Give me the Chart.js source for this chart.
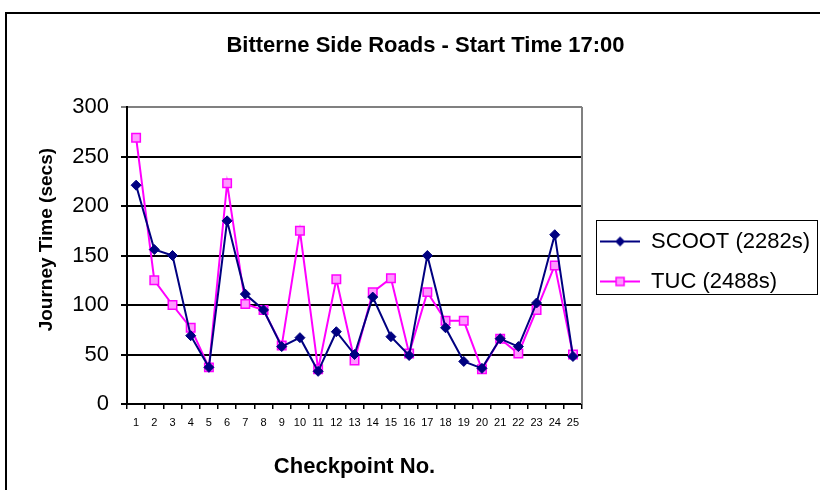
<!DOCTYPE html>
<html>
<head>
<meta charset="utf-8">
<script src="https://cdn.jsdelivr.net/npm/chart.js@4.4.0/dist/chart.umd.min.js"></script>
<style>
  html, body { margin: 0; padding: 0; background: #fff; overflow: hidden; }
  #marco {
    position: absolute; left: 5px; top: 12px; width: 900px; height: 600px;
    border-left: 2px solid #000; border-top: 2px solid #000;
  }
  #caja { position: absolute; left: 0; top: 0; width: 820px; height: 490px; }
</style>
</head>
<body>
<div id="marco"></div>
<div id="caja"><canvas id="grafico" width="820" height="490"></canvas></div>
<script>
// Datos
const checkpoints = ["1","2","3","4","5","6","7","8","9","10","11","12","13",
                     "14","15","16","17","18","19","20","21","22","23","24","25"];
const scoot = [221, 156, 150, 69, 37, 185, 111, 95, 58, 67, 33, 73, 50,
               108, 68, 49, 150, 77, 43, 36, 66, 58, 102, 171, 48];
const tuc = [269, 125, 100, 77, 37, 223, 101, 95, 59, 175, 35, 126, 44,
             113, 127, 51, 113, 84, 84, 35, 66, 51, 95, 140, 50];
const nombresSeries = ["SCOOT (2282s)", "TUC (2488s)"];
const yTicks = [0, 50, 100, 150, 200, 250, 300];

const AZUL = '#000080';
const ROSA = '#ff00ff';
const ROSA_CLARO = '#ff99ff';
const FUENTE = 'Arial, "Liberation Sans", sans-serif';

// Simbolo de leyenda: linea con marcador en medio
function simboloLeyenda(color, relleno, tipo) {
    const c = document.createElement('canvas');
    c.width = 40; c.height = 14;
    const g = c.getContext('2d');
    g.strokeStyle = color; g.lineWidth = 2;
    g.beginPath(); g.moveTo(0, 7); g.lineTo(40, 7); g.stroke();
    g.fillStyle = relleno;
    if (tipo === 'rombo') {
        g.beginPath();
        g.moveTo(20, 2); g.lineTo(25, 7); g.lineTo(20, 12); g.lineTo(15, 7);
        g.closePath(); g.fill();
    } else {
        g.fillRect(16, 3, 8, 8);
        g.lineWidth = 1.5;
        g.strokeRect(16, 3, 8, 8);
    }
    return c;
}

// Borde gris del area de trazado y recuadro de la leyenda
const bordes = {
    id: 'bordes',
    afterDatasetsDraw(chart) {
        const { ctx, chartArea } = chart;
        ctx.save();
        ctx.strokeStyle = '#808080';
        ctx.lineWidth = 2;
        ctx.beginPath();
        ctx.moveTo(Math.round(chartArea.right), chartArea.top);
        ctx.lineTo(Math.round(chartArea.right), chartArea.bottom);
        ctx.stroke();
        ctx.restore();
    },
    afterDraw(chart) {
        const lg = chart.legend;
        if (!lg || !lg.legendHitBoxes || !lg.legendHitBoxes.length) return;
        const hb = lg.legendHitBoxes;
        const primero = hb[0], ultimo = hb[hb.length - 1];
        const x0 = Math.round(primero.left - 4) + 0.5;
        const y0 = Math.round(primero.top - 11) + 0.5;
        const x1 = Math.round(lg.right - 3) + 0.5;
        const y1 = Math.round(ultimo.top + ultimo.height + 1) + 0.5;
        const ctx = chart.ctx;
        ctx.save();
        ctx.strokeStyle = '#000';
        ctx.lineWidth = 1;
        ctx.strokeRect(x0, y0, x1 - x0, y1 - y0);
        ctx.restore();
    }
};

const simbolos = [simboloLeyenda(AZUL, AZUL, 'rombo'), simboloLeyenda(ROSA, ROSA_CLARO, 'cuadro')];

new Chart(document.getElementById('grafico'), {
    type: 'line',
    data: {
        labels: checkpoints,
        datasets: [{
            label: nombresSeries[0],
            data: scoot,
            borderColor: AZUL,
            backgroundColor: AZUL,
            borderWidth: 2,
            pointStyle: 'rectRot',
            pointRadius: 5,
            pointBorderWidth: 1,
            pointBackgroundColor: AZUL,
            pointBorderColor: AZUL,
            tension: 0
        }, {
            label: nombresSeries[1],
            data: tuc,
            borderColor: ROSA,
            backgroundColor: ROSA_CLARO,
            borderWidth: 2,
            pointStyle: 'rect',
            pointRadius: 6,
            pointBorderWidth: 1.5,
            pointBackgroundColor: ROSA_CLARO,
            pointBorderColor: ROSA,
            tension: 0
        }]
    },
    options: {
        responsive: false,
        animation: false,
        layout: { padding: { left: 31, right: 0, top: 0, bottom: 10 } },
        plugins: {
            title: {
                display: true,
                text: 'Bitterne Side Roads - Start Time 17:00',
                color: '#000',
                font: { family: FUENTE, size: 22, weight: 'bold' },
                padding: { top: 33, bottom: 47.6 }
            },
            legend: {
                position: 'right',
                fullSize: false,
                maxWidth: 250,
                title: { display: true, text: ' ', font: { size: 10 }, padding: 0 },
                labels: {
                    usePointStyle: true,
                    pointStyleWidth: 40,
                    padding: 18,
                    color: '#000',
                    font: { family: FUENTE, size: 22 },
                    generateLabels: (chart) => chart.data.datasets.map((ds, i) => ({
                        text: ds.label,
                        pointStyle: simbolos[i],
                        fillStyle: ds.borderColor,
                        strokeStyle: ds.borderColor,
                        lineWidth: 0,
                        hidden: false,
                        datasetIndex: i,
                        fontColor: '#000'
                    }))
                }
            },
            tooltip: { enabled: false }
        },
        scales: {
            x: {
                offset: true,
                afterFit: (s) => { s.height = 76; },
                grid: {
                    offset: true,
                    drawOnChartArea: false,
                    drawTicks: true,
                    tickLength: 5,
                    color: '#000',
                    lineWidth: 1.5
                },
                border: { display: true, color: '#000', width: 2 },
                ticks: {
                    color: '#000',
                    padding: 7,
                    maxRotation: 0,
                    autoSkip: false,
                    font: { family: '"Liberation Sans Narrow", "Arial Narrow", Arial, sans-serif', size: 11 }
                },
                title: {
                    display: true,
                    text: 'Checkpoint No.',
                    color: '#000',
                    font: { family: FUENTE, size: 22, weight: 'bold' },
                    padding: { top: 0, bottom: 0 }
                }
            },
            y: {
                min: 0,
                max: 300,
                afterFit: (s) => { s.width = 96; },
                afterBuildTicks: (s) => { s.ticks = yTicks.map(v => ({ value: v })); },
                grid: {
                    color: (c) => (c.tick && c.tick.value === 300) ? '#808080' : '#000',
                    lineWidth: 2,
                    drawTicks: true,
                    tickLength: 6
                },
                border: { display: true, color: '#000', width: 2 },
                ticks: {
                    color: '#000',
                    padding: 12,
                    font: { family: FUENTE, size: 22 }
                },
                title: {
                    display: true,
                    // espacios iniciales: el titulo queda algo por encima del centro, como en el original
                    text: '      Journey Time (secs)',
                    color: '#000',
                    font: { family: FUENTE, size: 19, weight: 'bold' },
                    padding: { top: 4, bottom: 0 }
                }
            }
        }
    },
    plugins: [bordes]
});
</script>
</body>
</html>
